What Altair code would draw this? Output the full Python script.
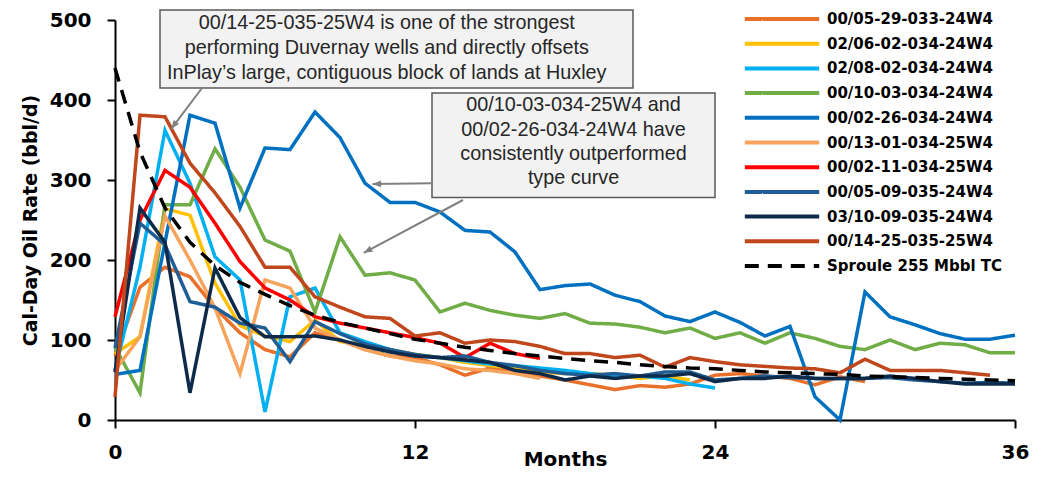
import math
import altair as alt
import pandas as pd

# ---------------- data ----------------
names = [
    "00/05-29-033-24W4", "02/06-02-034-24W4", "02/08-02-034-24W4",
    "00/10-03-034-24W4", "00/02-26-034-24W4", "00/13-01-034-25W4",
    "00/02-11-034-25W4", "00/05-09-035-24W4", "03/10-09-035-24W4",
    "00/14-25-035-25W4", "Sproule 255 Mbbl TC",
]
colors = ["#E8702A", "#FFC000", "#00B0F0", "#70AD47", "#0070C0", "#F6A35C",
          "#FF0000", "#215D95", "#0E2A4A", "#C0461B", "#000000"]

w_0529 = [80, 166, 191, 179, 140, 109, 88, 79, 109, 100, 88, 80, 78, 69, 56, 65, 62, 55,
          50, 44, 38, 43, 41, 45, 56, 58, 55, 52, 44, 54, 48]
w_0602 = [83, 104, 264, 256, 171, 118, 105, 98, 125, 98, 94, 88, 82, 78, 72, 68, 65, 60,
          58, 58, 56, 52, 55, 50]
w_0802 = [62, 191, 362, 296, 204, 175, 10, 154, 165, 109, 98, 88, 80, 78, 74, 70, 68, 65,
          62, 58, 55, 55, 52, 45, 40]
w_1003 = [91, 34, 269, 269, 339, 291, 225, 211, 135, 229, 181, 184, 175, 135, 146, 137, 131,
          127, 133, 121, 120, 116, 109, 115, 102, 109, 96, 109, 102, 92, 88, 100, 88, 96, 94,
          84, 84]
w_0226 = [57, 62, 222, 381, 371, 265, 340, 338, 385, 353, 296, 272, 272, 260, 237, 235, 210,
          163, 168, 170, 156, 148, 130, 123, 135, 122, 105, 117, 29, 0, 160, 129, 119, 108,
          101, 101, 106]
w_1301 = [62, 104, 255, 200, 140, 58, 175, 165, 115, 100, 88, 80, 74, 70, 64, 62, 58, 52]
w_0211 = [129, 250, 312, 291, 246, 198, 165, 150, 129, 121, 115, 109, 103, 96, 78, 96, 83, 77]
w_0509 = [90, 246, 219, 148, 141, 121, 115, 73, 123, 108, 95, 88, 82, 78, 80, 72, 68, 62, 58,
          56, 58, 55, 60, 60, 50, 52, 55, 53, 52, 52, 52, 53, 50, 48, 46, 47, 46]
w_1009 = [60, 265, 222, 34, 190, 128, 104, 104, 105, 100, 92, 85, 80, 78, 75, 72, 62, 58, 50,
          55, 52, 55, 55, 58, 48, 52, 52, 55, 52, 52, 52, 55, 52, 48, 45, 45, 45]
w_1425 = [29, 381, 379, 321, 284, 242, 191, 191, 154, 141, 129, 127, 105, 109, 96, 100, 98,
          92, 83, 83, 78, 81, 66, 78, 73, 69, 67, 65, 64, 59, 76, 62, 62, 62, 59, 56]
tc_curve = [440, 335, 265, 222, 193, 172, 157, 143, 131, 122, 115, 108, 101, 96, 91, 87, 83,
            80, 77, 74, 72, 69, 67, 65, 64, 62, 60, 59, 58, 57, 55, 54, 53, 52, 51, 50, 49]

series = [w_0529, w_0602, w_0802, w_1003, w_0226, w_1301, w_0211, w_0509, w_1009, w_1425,
          tc_curve]
dashes = [[1, 0]] * 10 + [[14, 9]]

# annotation boxes (in months / bbl/d units)
box_x1 = [1.8, 12.68]
box_x2 = [20.72, 24.0]
box_y1 = [415, 278]
box_y2 = [512.5, 408.75]
note_x = [10.87, 10.87, 10.87, 18.34, 18.34, 18.34, 18.34]
note_y = [496, 465, 434, 394, 363, 332, 302]
note_text = [
    "00/14-25-035-25W4 is one of the strongest",
    "performing Duvernay wells and directly offsets",
    "InPlay\u2019s large, contiguous block of lands at Huxley",
    "00/10-03-034-25W4 and",
    "00/02-26-034-24W4 have",
    "consistently outperformed",
    "type curve",
]
arr_x1 = [3.48, 12.68, 13.92]
arr_y1 = [415, 296, 275]
arr_x2 = [2.25, 10.3, 9.95]
arr_y2 = [364, 295, 209]

# ---------------- build tables ----------------
W, H = 900, 400
rows = []
for k, (n, vals) in enumerate(zip(names, series)):
    for m, v in enumerate(vals):
        rows.append({"well": n, "month": m, "rate": v, "k": k})
df = pd.DataFrame(rows)

boxes = pd.DataFrame({"x": box_x1, "x2": box_x2, "y": box_y1, "y2": box_y2})
notes = pd.DataFrame({"x": note_x, "y": note_y, "t": note_text})
px_m, px_v = W / 36.0, H / 500.0
angles = []
for a, b, c, d in zip(arr_x1, arr_y1, arr_x2, arr_y2):
    dx = (c - a) * px_m
    dy = -(d - b) * px_v
    angles.append(math.degrees(math.atan2(dx, -dy)) % 360)
arrows = pd.DataFrame({"x": arr_x1, "y": arr_y1, "x2": arr_x2, "y2": arr_y2, "ang": angles})

xs = alt.Scale(domain=[0, 36], nice=False, zero=False)
ys = alt.Scale(domain=[0, 500], nice=False)

FONT = "DejaVu Sans"

lines = alt.Chart(df).mark_line(strokeWidth=3.5).encode(
    x=alt.X("month:Q", scale=xs,
            axis=alt.Axis(values=[0, 12, 24, 36], title="Months", titleY=39,
                          titleBaseline="middle", titleFontSize=20, labelPadding=14)),
    y=alt.Y("rate:Q", scale=ys,
            axis=alt.Axis(values=[0, 100, 200, 300, 400, 500],
                          title="Cal-Day Oil Rate (bbl/d)", titleX=-85, titleY=200,
                          titleAngle=270, titleBaseline="middle", titleAlign="center",
                          titleFontSize=19, labelPadding=16)),
    color=alt.Color("well:N", scale=alt.Scale(domain=names, range=colors),
                    legend=alt.Legend(title=None)),
    strokeDash=alt.StrokeDash("well:N", scale=alt.Scale(domain=names, range=dashes),
                              legend=alt.Legend(title=None)),
    order=alt.Order("k:Q"),
)

rects = alt.Chart(boxes).mark_rect(fill="#F2F2F2", stroke="#595959", strokeWidth=1.5).encode(
    x=alt.X("x:Q", scale=xs), x2="x2:Q", y=alt.Y("y:Q", scale=ys), y2="y2:Q")

texts = alt.Chart(notes).mark_text(font="Liberation Sans", fontSize=19.8, color="#262626",
                                   align="center", baseline="middle").encode(
    x=alt.X("x:Q", scale=xs), y=alt.Y("y:Q", scale=ys), text="t:N")

shafts = alt.Chart(arrows).mark_rule(color="#808080", strokeWidth=2).encode(
    x=alt.X("x:Q", scale=xs), y=alt.Y("y:Q", scale=ys), x2="x2:Q", y2="y2:Q")

heads = alt.Chart(arrows).mark_point(shape="M0,0L-0.55,1.4L0.55,1.4Z", filled=True, size=150,
                                     color="#808080", opacity=1).encode(
    x=alt.X("x2:Q", scale=xs), y=alt.Y("y2:Q", scale=ys),
    angle=alt.Angle("ang:Q", scale=None))

chart = alt.layer(lines, rects, texts, shafts, heads).properties(
    width=W, height=H,
    autosize=alt.AutoSizeParams(type="none"),
    padding={"left": 107, "top": 12, "right": 21, "bottom": 51},
).configure_view(strokeWidth=0).configure_axis(
    grid=False, domainColor="black", domainWidth=2, tickColor="black", tickWidth=2,
    tickSize=8, labelFont=FONT, labelFontWeight="bold", labelFontSize=20,
    labelColor="black", labelFlush=False, titleFont=FONT, titleFontWeight="bold",
    titleColor="black",
).configure_legend(
    orient="none", legendX=653, legendY=-15, symbolType="M-3.1,0H3.1", symbolSize=576,
    symbolStrokeWidth=4, labelFont=FONT, labelFontWeight="bold", labelFontSize=15,
    labelColor="black", labelOffset=31, rowPadding=2.7, padding=0, labelLimit=400,
)

chart.save("out.html", embed_options={"renderer": "svg", "actions": False})
